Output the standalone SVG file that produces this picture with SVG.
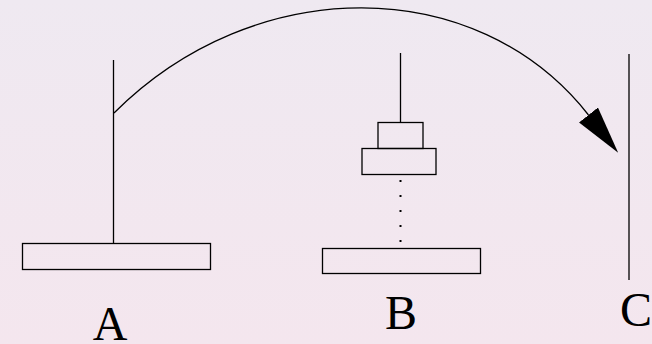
<svg xmlns="http://www.w3.org/2000/svg" width="652" height="344" viewBox="0 0 652 344">
  <defs>
    <linearGradient id="bg" x1="0" y1="0" x2="0" y2="1">
      <stop offset="0" stop-color="#efe9f1"/>
      <stop offset="1" stop-color="#f4e6ee"/>
    </linearGradient>
    <marker id="arrow" markerUnits="userSpaceOnUse" markerWidth="50" markerHeight="26" viewBox="0 -13 50 26" refX="0" refY="0" orient="auto">
      <path d="M0,-12 L48,0 L0,12 z" fill="#000"/>
    </marker>
    <style>
      .ln { stroke: #000; stroke-width: 1.3; fill: none; }
      .disk { stroke: #000; stroke-width: 1.3; fill: none; }
      .lbl { font-family: "Liberation Serif", "Times New Roman", serif; font-size: 48px; fill: #000; text-anchor: middle; }
    </style>
  </defs>
  <rect x="0" y="0" width="652" height="344" fill="url(#bg)"/>

  <g id="pegA">
    <line class="ln" x1="113.5" y1="60" x2="113.5" y2="243"/>
    <rect class="disk" x="22.5" y="243.5" width="188" height="26"/>
    <text class="lbl" x="110" y="340">A</text>
  </g>

  <g id="pegB">
    <line class="ln" x1="400.5" y1="53" x2="400.5" y2="122"/>
    <rect class="disk" x="378" y="122.5" width="45" height="26"/>
    <rect class="disk" x="362" y="148.5" width="74" height="26"/>
    <line x1="400.5" y1="180" x2="400.5" y2="246" stroke="#000" stroke-width="2" stroke-dasharray="2 13"/>
    <rect class="disk" x="322.5" y="248.5" width="158" height="25"/>
    <text class="lbl" x="401" y="329">B</text>
  </g>

  <g id="pegC">
    <line class="ln" x1="629" y1="54" x2="629" y2="280"/>
    <text class="lbl" x="636" y="326">C</text>
  </g>

  <g id="connectors">
    <path class="ln" d="M114,113 C254,-27 476,-28 588.5,115" marker-end="url(#arrow)"/>
  </g>
</svg>
